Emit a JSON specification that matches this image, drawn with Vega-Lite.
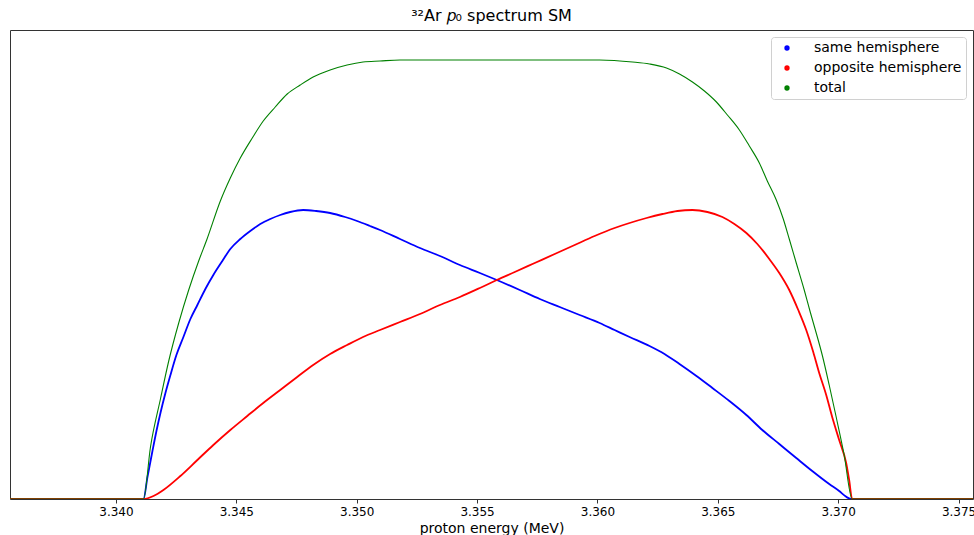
{
  "$schema": "https://vega.github.io/schema/vega-lite/v6.json",
  "width": 963,
  "height": 469,
  "autosize": {"type": "none"},
  "padding": {"left": 10, "top": 30, "right": 1, "bottom": 36},
  "background": "white",
  "title": {"text": "³²Ar 𝑝₀ spectrum SM", "fontSize": 16, "font": "DejaVu Sans", "fontWeight": "normal", "color": "black", "anchor": "middle", "offset": 6},
  "config": {
    "font": "DejaVu Sans",
    "view": {"stroke": "#333", "strokeWidth": 1},
    "legend": {"strokeColor": "#d0d0d0", "fillColor": "white", "cornerRadius": 3, "padding": 4, "rowPadding": 6, "labelFontSize": 14, "labelColor": "black", "symbolType": "circle", "symbolSize": 8, "symbolStrokeWidth": 2.5, "symbolOffset": 5, "labelOffset": 20}
  },
  "data": {"values": [
    {"series": "same hemisphere", "energy": 3.3356, "counts": 0},
    {"series": "same hemisphere", "energy": 3.341144, "counts": 0},
    {"series": "same hemisphere", "energy": 3.341310, "counts": 22},
    {"series": "same hemisphere", "energy": 3.341517, "counts": 48},
    {"series": "same hemisphere", "energy": 3.341683, "counts": 68},
    {"series": "same hemisphere", "energy": 3.341849, "counts": 86},
    {"series": "same hemisphere", "energy": 3.342056, "counts": 106},
    {"series": "same hemisphere", "energy": 3.342264, "counts": 124},
    {"series": "same hemisphere", "energy": 3.342512, "counts": 144},
    {"series": "same hemisphere", "energy": 3.342803, "counts": 162},
    {"series": "same hemisphere", "energy": 3.343093, "counts": 180},
    {"series": "same hemisphere", "energy": 3.343383, "counts": 194},
    {"series": "same hemisphere", "energy": 3.343715, "counts": 210},
    {"series": "same hemisphere", "energy": 3.344046, "counts": 224},
    {"series": "same hemisphere", "energy": 3.344420, "counts": 238},
    {"series": "same hemisphere", "energy": 3.344751, "counts": 250},
    {"series": "same hemisphere", "energy": 3.345166, "counts": 260},
    {"series": "same hemisphere", "energy": 3.345580, "counts": 268},
    {"series": "same hemisphere", "energy": 3.345995, "counts": 275},
    {"series": "same hemisphere", "energy": 3.346410, "counts": 280},
    {"series": "same hemisphere", "energy": 3.346824, "counts": 284},
    {"series": "same hemisphere", "energy": 3.347239, "counts": 287},
    {"series": "same hemisphere", "energy": 3.347778, "counts": 289},
    {"series": "same hemisphere", "energy": 3.348317, "counts": 288},
    {"series": "same hemisphere", "energy": 3.348897, "counts": 286},
    {"series": "same hemisphere", "energy": 3.349519, "counts": 282},
    {"series": "same hemisphere", "energy": 3.350017, "counts": 278},
    {"series": "same hemisphere", "energy": 3.350556, "counts": 273},
    {"series": "same hemisphere", "energy": 3.350970, "counts": 269},
    {"series": "same hemisphere", "energy": 3.351799, "counts": 260},
    {"series": "same hemisphere", "energy": 3.352629, "counts": 251},
    {"series": "same hemisphere", "energy": 3.353458, "counts": 243},
    {"series": "same hemisphere", "energy": 3.354287, "counts": 234},
    {"series": "same hemisphere", "energy": 3.355116, "counts": 226},
    {"series": "same hemisphere", "energy": 3.355821, "counts": 219},
    {"series": "same hemisphere", "energy": 3.356774, "counts": 209},
    {"series": "same hemisphere", "energy": 3.357604, "counts": 200},
    {"series": "same hemisphere", "energy": 3.358433, "counts": 192},
    {"series": "same hemisphere", "energy": 3.359262, "counts": 184},
    {"series": "same hemisphere", "energy": 3.360091, "counts": 176},
    {"series": "same hemisphere", "energy": 3.360713, "counts": 169},
    {"series": "same hemisphere", "energy": 3.361335, "counts": 162},
    {"series": "same hemisphere", "energy": 3.362164, "counts": 153},
    {"series": "same hemisphere", "energy": 3.362786, "counts": 145},
    {"series": "same hemisphere", "energy": 3.363408, "counts": 135},
    {"series": "same hemisphere", "energy": 3.364113, "counts": 123},
    {"series": "same hemisphere", "energy": 3.364776, "counts": 111},
    {"series": "same hemisphere", "energy": 3.365481, "counts": 98},
    {"series": "same hemisphere", "energy": 3.366186, "counts": 84},
    {"series": "same hemisphere", "energy": 3.366849, "counts": 69},
    {"series": "same hemisphere", "energy": 3.367554, "counts": 55},
    {"series": "same hemisphere", "energy": 3.368259, "counts": 41},
    {"series": "same hemisphere", "energy": 3.368922, "counts": 28},
    {"series": "same hemisphere", "energy": 3.369627, "counts": 15},
    {"series": "same hemisphere", "energy": 3.370041, "counts": 8},
    {"series": "same hemisphere", "energy": 3.370290, "counts": 3},
    {"series": "same hemisphere", "energy": 3.370539, "counts": 0},
    {"series": "same hemisphere", "energy": 3.3756, "counts": 0},

    {"series": "opposite hemisphere", "energy": 3.3356, "counts": 0},
    {"series": "opposite hemisphere", "energy": 3.341144, "counts": 0},
    {"series": "opposite hemisphere", "energy": 3.341559, "counts": 3},
    {"series": "opposite hemisphere", "energy": 3.341973, "counts": 9},
    {"series": "opposite hemisphere", "energy": 3.342678, "counts": 23},
    {"series": "opposite hemisphere", "energy": 3.343383, "counts": 39},
    {"series": "opposite hemisphere", "energy": 3.344046, "counts": 54},
    {"series": "opposite hemisphere", "energy": 3.344751, "counts": 69},
    {"series": "opposite hemisphere", "energy": 3.345456, "counts": 83},
    {"series": "opposite hemisphere", "energy": 3.346119, "counts": 96},
    {"series": "opposite hemisphere", "energy": 3.346824, "counts": 109},
    {"series": "opposite hemisphere", "energy": 3.347529, "counts": 122},
    {"series": "opposite hemisphere", "energy": 3.348192, "counts": 134},
    {"series": "opposite hemisphere", "energy": 3.348897, "counts": 145},
    {"series": "opposite hemisphere", "energy": 3.349602, "counts": 154},
    {"series": "opposite hemisphere", "energy": 3.350265, "counts": 162},
    {"series": "opposite hemisphere", "energy": 3.350970, "counts": 169},
    {"series": "opposite hemisphere", "energy": 3.351799, "counts": 177},
    {"series": "opposite hemisphere", "energy": 3.352629, "counts": 185},
    {"series": "opposite hemisphere", "energy": 3.353458, "counts": 194},
    {"series": "opposite hemisphere", "energy": 3.354287, "counts": 202},
    {"series": "opposite hemisphere", "energy": 3.355116, "counts": 211},
    {"series": "opposite hemisphere", "energy": 3.355821, "counts": 219},
    {"series": "opposite hemisphere", "energy": 3.356567, "counts": 227},
    {"series": "opposite hemisphere", "energy": 3.357396, "counts": 236},
    {"series": "opposite hemisphere", "energy": 3.358226, "counts": 245},
    {"series": "opposite hemisphere", "energy": 3.359055, "counts": 254},
    {"series": "opposite hemisphere", "energy": 3.359884, "counts": 263},
    {"series": "opposite hemisphere", "energy": 3.360713, "counts": 271},
    {"series": "opposite hemisphere", "energy": 3.361335, "counts": 276},
    {"series": "opposite hemisphere", "energy": 3.362040, "counts": 281},
    {"series": "opposite hemisphere", "energy": 3.362703, "counts": 285},
    {"series": "opposite hemisphere", "energy": 3.363325, "counts": 288},
    {"series": "opposite hemisphere", "energy": 3.363947, "counts": 289},
    {"series": "opposite hemisphere", "energy": 3.364569, "counts": 287},
    {"series": "opposite hemisphere", "energy": 3.365191, "counts": 282},
    {"series": "opposite hemisphere", "energy": 3.365688, "counts": 275},
    {"series": "opposite hemisphere", "energy": 3.366186, "counts": 266},
    {"series": "opposite hemisphere", "energy": 3.366642, "counts": 255},
    {"series": "opposite hemisphere", "energy": 3.367139, "counts": 240},
    {"series": "opposite hemisphere", "energy": 3.367554, "counts": 226},
    {"series": "opposite hemisphere", "energy": 3.367968, "counts": 209},
    {"series": "opposite hemisphere", "energy": 3.368342, "counts": 189},
    {"series": "opposite hemisphere", "energy": 3.368673, "counts": 169},
    {"series": "opposite hemisphere", "energy": 3.368964, "counts": 147},
    {"series": "opposite hemisphere", "energy": 3.369212, "counts": 126},
    {"series": "opposite hemisphere", "energy": 3.369503, "counts": 104},
    {"series": "opposite hemisphere", "energy": 3.369751, "counts": 82},
    {"series": "opposite hemisphere", "energy": 3.370041, "counts": 59},
    {"series": "opposite hemisphere", "energy": 3.370332, "counts": 36},
    {"series": "opposite hemisphere", "energy": 3.370456, "counts": 19},
    {"series": "opposite hemisphere", "energy": 3.370580, "counts": 0},
    {"series": "opposite hemisphere", "energy": 3.3756, "counts": 0},

    {"series": "total", "energy": 3.3356, "counts": 0},
    {"series": "total", "energy": 3.341144, "counts": 0},
    {"series": "total", "energy": 3.341435, "counts": 52},
    {"series": "total", "energy": 3.341849, "counts": 100},
    {"series": "total", "energy": 3.342193, "counts": 138},
    {"series": "total", "energy": 3.342608, "counts": 176},
    {"series": "total", "energy": 3.343022, "counts": 209},
    {"series": "total", "energy": 3.343437, "counts": 238},
    {"series": "total", "energy": 3.343785, "counts": 260},
    {"series": "total", "energy": 3.344337, "counts": 298},
    {"series": "total", "energy": 3.344751, "counts": 321},
    {"series": "total", "energy": 3.345166, "counts": 341},
    {"series": "total", "energy": 3.345663, "counts": 361},
    {"series": "total", "energy": 3.346119, "counts": 378},
    {"series": "total", "energy": 3.346617, "counts": 392},
    {"series": "total", "energy": 3.347114, "counts": 405},
    {"series": "total", "energy": 3.347653, "counts": 414},
    {"series": "total", "energy": 3.348192, "counts": 422},
    {"series": "total", "energy": 3.348897, "counts": 429},
    {"series": "total", "energy": 3.349602, "counts": 434},
    {"series": "total", "energy": 3.350265, "counts": 437},
    {"series": "total", "energy": 3.350970, "counts": 438},
    {"series": "total", "energy": 3.351799, "counts": 439},
    {"series": "total", "energy": 3.353872, "counts": 439},
    {"series": "total", "energy": 3.355945, "counts": 439},
    {"series": "total", "energy": 3.358018, "counts": 439},
    {"series": "total", "energy": 3.360091, "counts": 439},
    {"series": "total", "energy": 3.361459, "counts": 437},
    {"series": "total", "energy": 3.362164, "counts": 435},
    {"series": "total", "energy": 3.362869, "counts": 431},
    {"series": "total", "energy": 3.363408, "counts": 425},
    {"series": "total", "energy": 3.363947, "counts": 417},
    {"series": "total", "energy": 3.364444, "counts": 408},
    {"series": "total", "energy": 3.364942, "counts": 397},
    {"series": "total", "energy": 3.365398, "counts": 384},
    {"series": "total", "energy": 3.365896, "counts": 369},
    {"series": "total", "energy": 3.366310, "counts": 353},
    {"series": "total", "energy": 3.366725, "counts": 336},
    {"series": "total", "energy": 3.367056, "counts": 318},
    {"series": "total", "energy": 3.367430, "counts": 299},
    {"series": "total", "energy": 3.367720, "counts": 280},
    {"series": "total", "energy": 3.367968, "counts": 260},
    {"series": "total", "energy": 3.368259, "counts": 236},
    {"series": "total", "energy": 3.368590, "counts": 209},
    {"series": "total", "energy": 3.368839, "counts": 187},
    {"series": "total", "energy": 3.369088, "counts": 166},
    {"series": "total", "energy": 3.369337, "counts": 144},
    {"series": "total", "energy": 3.369627, "counts": 114},
    {"series": "total", "energy": 3.369917, "counts": 82},
    {"series": "total", "energy": 3.370249, "counts": 44},
    {"series": "total", "energy": 3.370580, "counts": 0},
    {"series": "total", "energy": 3.3756, "counts": 0}
  ]},
  "mark": {"type": "line", "clip": true, "interpolate": "monotone"},
  "encoding": {
    "x": {
      "field": "energy", "type": "quantitative",
      "scale": {"domain": [3.3356, 3.3756], "nice": false, "zero": false},
      "axis": {
        "title": "proton energy (MeV)", "titleFontSize": 14, "titleFontWeight": "normal", "titleColor": "black", "titlePadding": 4,
        "values": [3.340, 3.345, 3.350, 3.355, 3.360, 3.365, 3.370, 3.375],
        "format": ".3f", "labelFontSize": 12, "labelColor": "black", "labelPadding": 3,
        "tickSize": 4, "tickColor": "#333", "domain": false, "grid": false, "labelFlush": false, "labelOverlap": false
      }
    },
    "y": {
      "field": "counts", "type": "quantitative",
      "scale": {"domain": [0, 469], "nice": false},
      "axis": null
    },
    "color": {
      "field": "series", "type": "nominal",
      "scale": {"domain": ["same hemisphere", "opposite hemisphere", "total"], "range": ["#0000ff", "#ff0000", "#008000"]},
      "legend": {"title": null, "orient": "none", "legendX": 761, "legendY": 7}
    },
    "strokeWidth": {"condition": {"test": "datum.series === 'total'", "value": 1.1}, "value": 1.8}
  }
}
